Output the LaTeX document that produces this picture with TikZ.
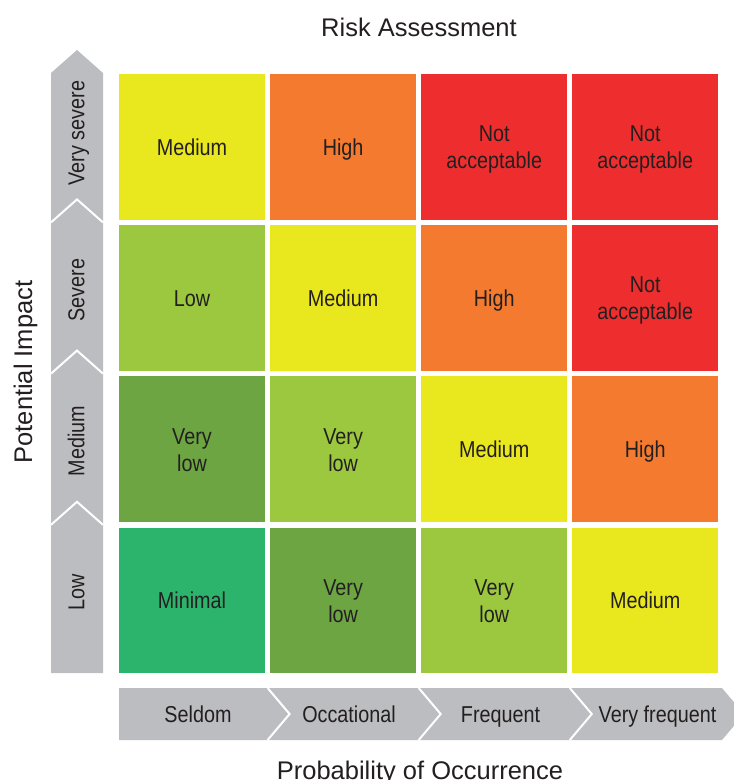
\documentclass[tikz,border=0pt]{standalone}
\usepackage{fontspec}
\setmainfont{Liberation Sans}
\newfontfamily\cnd{Liberation Sans}[FakeStretch=0.86]
\definecolor{txt}{HTML}{231F20}
\definecolor{cyel}{HTML}{E9E71E}
\definecolor{corg}{HTML}{F37A2E}
\definecolor{cred}{HTML}{EE2E2E}
\definecolor{clgr}{HTML}{9BC83F}
\definecolor{cmgr}{HTML}{6DA543}
\definecolor{cgrn}{HTML}{2DB46C}
\definecolor{cgray}{HTML}{BCBDC0}
\newcommand{\twol}[3]{\raisebox{-#3}[\height][\depth]{\parbox{140pt}{\centering #1\\#2}}}
\tikzset{
  cell/.style={minimum width=146pt, minimum height=145.5pt, inner sep=0pt, align=center,
    text=txt, font=\cnd\fontsize{23}{27.5}\selectfont},
  oneline/.style={text height=16.5pt, text depth=0pt},
  sidelbl/.style={rotate=90, inner sep=0pt, text=txt, text height=16.5pt, text depth=0pt,
    font=\cnd\fontsize{23}{27.5}\selectfont},
  botlbl/.style={inner sep=0pt, text=txt, text height=16.5pt, text depth=0pt,
    font=\cnd\fontsize{23}{27.5}\selectfont},
  title/.style={inner sep=0pt, text=txt, font=\fontsize{25.5}{30}\selectfont},
  sep/.style={draw=white, line width=2pt},
}
\begin{document}
\begin{tikzpicture}[x=1pt, y=-1pt]
\useasboundingbox (0,0) rectangle (734,780);
\begin{scope}
\clip (0,0) rectangle (734,780);
% left impact column
\fill[cgray] (51,673) -- (51,73) -- (77,50) -- (103,73) -- (103,673) -- cycle;
\foreach \ys in {222.4,373.6,524.8}{
  \draw[sep] (51,\ys) -- (77,\ys-23) -- (103,\ys);
}
% bottom probability bar
\fill[cgray] (119,688) -- (722,688) -- (744,714) -- (722,740) -- (119,740) -- cycle;
\foreach \xs in {267.6,418.7,569.8}{
  \draw[sep] (\xs,688) -- (\xs+22,714) -- (\xs,740);
}
% cells
\node[cell, oneline, fill=cyel] (c11) at (192.0,146.75) {Medium};
\node[cell, oneline, fill=corg] (c12) at (343.1,146.75) {High};
\node[cell, fill=cred] (c13) at (494.2,146.75) {\twol{Not}{acceptable}{2.5pt}};
\node[cell, fill=cred] (c14) at (645.3,146.75) {\twol{Not}{acceptable}{2.5pt}};
\node[cell, oneline, fill=clgr] (c21) at (192.0,297.95) {Low};
\node[cell, oneline, fill=cyel] (c22) at (343.1,297.95) {Medium};
\node[cell, oneline, fill=corg] (c23) at (494.2,297.95) {High};
\node[cell, fill=cred] (c24) at (645.3,297.95) {\twol{Not}{acceptable}{2.5pt}};
\node[cell, fill=cmgr] (c31) at (192.0,449.15) {\twol{Very}{low}{1pt}};
\node[cell, fill=clgr] (c32) at (343.1,449.15) {\twol{Very}{low}{1pt}};
\node[cell, oneline, fill=cyel] (c33) at (494.2,449.15) {Medium};
\node[cell, oneline, fill=corg] (c34) at (645.3,449.15) {High};
\node[cell, oneline, fill=cgrn] (c41) at (192.0,600.35) {Minimal};
\node[cell, fill=cmgr] (c42) at (343.1,600.35) {\twol{Very}{low}{1pt}};
\node[cell, fill=clgr] (c43) at (494.2,600.35) {\twol{Very}{low}{1pt}};
\node[cell, oneline, fill=cyel] (c44) at (645.3,600.35) {Medium};
% side labels
\node[sidelbl] (l1) at (76,133) {Very severe};
\node[sidelbl] (l2) at (76,290) {Severe};
\node[sidelbl] (l3) at (76,441) {Medium};
\node[sidelbl] (l4) at (76,592) {Low};
% bottom labels
\node[botlbl] (b1) at (198,714) {Seldom};
\node[botlbl] (b2) at (349,714) {Occational};
\node[botlbl] (b3) at (500.5,714) {Frequent};
\node[botlbl] (b4) at (657.5,714) {Very frequent};
% titles
\node[title, anchor=base] (t1) at (419,36.7) {Risk Assessment};
\node[title, anchor=base] (t2) at (420,779.5) {Probability of Occurrence};
\node[title, anchor=base, rotate=90] (t3) at (32,372) {Potential Impact};
\end{scope}
\end{tikzpicture}
\end{document}
